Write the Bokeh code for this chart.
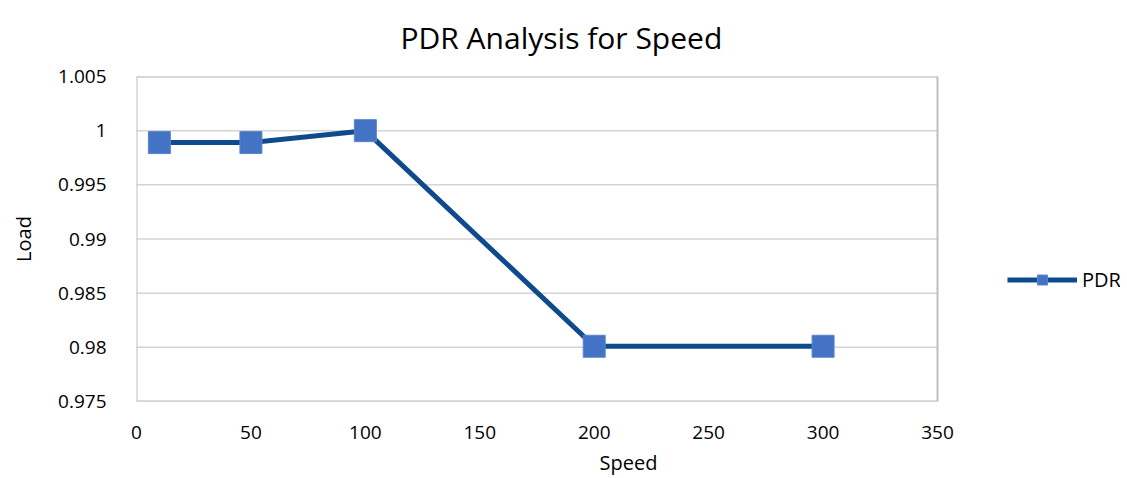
from bokeh.plotting import figure
from bokeh.models import Legend, LegendItem, ColumnDataSource, Range1d, FixedTicker
from bokeh.embed import file_html
from bokeh.resources import INLINE

speed = [10, 50, 100, 200, 300]
pdr = [0.9989, 0.9989, 1.0, 0.9801, 0.9801]
x_ticks = [0, 50, 100, 150, 200, 250, 300, 350]
y_ticks = [0.975, 0.98, 0.985, 0.99, 0.995, 1.0, 1.005]
y_labels = {0.975: "0.975", 0.98: "0.98", 0.985: "0.985", 0.99: "0.99",
            0.995: "0.995", 1.0: "1", 1.005: "1.005"}

X_MIN, X_MAX = 0, 350
Y_MIN, Y_MAX = 0.975, 1.005

FONT = "Open Sans"
W, H = 1120, 478
LEFT, TOP, BOTTOM = 136, 76, 76
frame_w = W - LEFT
plot_px = 801  # pixel width of the visible 0..350 box
x_extent = X_MAX * frame_w / plot_px  # frame extends right to hold the legend

src = ColumnDataSource(dict(x=speed, y=pdr))

p = figure(width=W, height=H, output_backend="svg", toolbar_location=None,
           x_range=Range1d(X_MIN, x_extent), y_range=Range1d(Y_MIN, Y_MAX),
           min_border_left=LEFT, min_border_right=0, min_border_top=TOP,
           min_border_bottom=BOTTOM)

p.title.text = "PDR Analysis for Speed"
p.title.align = "left"
p.title.vertical_align = "top"
p.title.text_font = FONT
p.title.text_font_size = "30px"
p.title.text_font_style = "normal"
p.title.text_color = "#000000"
p.title.offset = 264
p.title.standoff = 33

p.outline_line_color = None
p.xgrid.grid_line_color = None
p.ygrid.grid_line_color = None
p.background_fill_color = "white"
p.border_fill_color = "white"

# horizontal gridlines limited to the chart box
p.segment(x0=[X_MIN] * len(y_ticks), x1=[X_MAX] * len(y_ticks), y0=y_ticks, y1=y_ticks,
          line_color="#D4D4D4", line_width=1.5)
# chart box border
p.quad(left=[X_MIN], right=[X_MAX], bottom=[Y_MIN], top=[Y_MAX],
       fill_color=None, line_color="#BFBFBF", line_width=2)

ln = p.line("x", "y", source=src, line_color="#0E4A8C", line_width=5)
sc = p.scatter("x", "y", source=src, marker="square", size=22,
               fill_color="#4472C4", line_color="#5B84CF", line_width=1)

for ax in (p.xaxis[0], p.yaxis[0]):
    ax.axis_line_color = None
    ax.major_tick_line_color = None
    ax.minor_tick_line_color = None
    ax.major_label_text_font = FONT
    ax.major_label_text_font_size = "19px"
    ax.major_label_text_color = "#000000"
    ax.axis_label_text_font = FONT
    ax.axis_label_text_font_size = "20px"
    ax.axis_label_text_font_style = "normal"
    ax.axis_label_text_color = "#000000"

p.xaxis.ticker = FixedTicker(ticks=x_ticks)
p.yaxis.ticker = FixedTicker(ticks=y_ticks)
p.yaxis.major_label_overrides = y_labels
p.xaxis.axis_label = "Speed"
p.yaxis.axis_label = "Load"
p.xaxis.major_label_standoff = 18
p.yaxis.major_label_standoff = 24
p.xaxis.axis_label_standoff = 7
p.yaxis.axis_label_standoff = 18

legend = Legend(items=[LegendItem(label="PDR", renderers=[ln, sc])],
                location=(871, 108), padding=0, margin=0,
                glyph_width=70, glyph_height=25, label_standoff=5,
                label_text_font=FONT, label_text_font_size="20px",
                label_text_color="#000000",
                border_line_color=None, background_fill_alpha=0)
p.add_layout(legend, "center")

open("out.html", "w").write(file_html(p, INLINE))
